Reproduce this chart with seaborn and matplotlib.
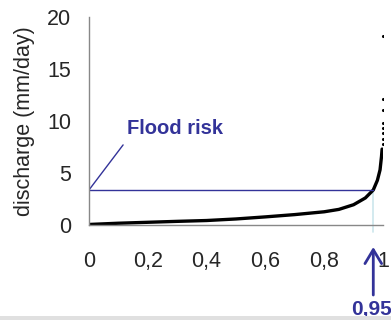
import matplotlib
matplotlib.use("Agg")
import matplotlib.pyplot as plt
import seaborn as sns
from matplotlib.patches import Rectangle

#data
exceedance = [0.0, 0.1, 0.2, 0.3, 0.4, 0.5, 0.6, 0.7, 0.8, 0.85, 0.9, 0.94, 0.967, 0.981, 0.99, 0.995, 0.997]
discharge = [0.05, 0.17, 0.26, 0.35, 0.43, 0.58, 0.78, 1.0, 1.27, 1.5, 1.95, 2.6, 3.37, 4.3, 5.3, 6.6, 7.3]
top_x = [0.999, 0.999, 0.999, 0.999, 0.999, 1.0, 1.0, 1.0]
top_y = [7.8, 8.3, 8.8, 9.3, 9.8, 11.06, 12.1, 18.2]
flood_level = 3.37
flood_x = 0.967
yticks = [0, 5, 10, 15, 20]
xticks = [0, 0.2, 0.4, 0.6, 0.8, 1]
xticklabels = ["0", "0,2", "0,4", "0,6", "0,8", "1"]

sns.set_style("white")
plt.rcParams['font.family'] = ['Liberation Sans', 'DejaVu Sans']
blue = "#333399"
grey = "#888888"

fig = plt.figure(figsize=(3.91, 3.2), dpi=100)
ax = fig.add_axes([0.2276, 0.2969, 0.7519, 0.65])

#curve
sns.lineplot(x=exceedance, y=discharge, ax=ax, color="black", linewidth=2.4,
             solid_capstyle="round", sort=False)
sns.scatterplot(x=top_x, y=top_y, ax=ax, color="black", s=5, linewidth=0)

#flood risk lines
ax.plot([0, flood_x], [flood_level, flood_level], color=blue, lw=1)
ax.plot([flood_x, flood_x], [flood_level, -0.65], color="#cce6ec", lw=1.2,
        clip_on=False, zorder=0)
ax.plot([0, 0.116], [flood_level, 7.7], color=blue, lw=1)
ax.text(0.13, 9.3, "Flood risk", color=blue, fontsize=14.5, fontweight="bold",
        va="center", ha="left")

#arrow + label below axis
ax.annotate("", xy=(flood_x, -1.85), xytext=(flood_x, -7.0),
            arrowprops=dict(arrowstyle="->,head_length=0.5,head_width=0.3",
                            color=blue, lw=2, mutation_scale=20),
            annotation_clip=False)
ax.text(0.96, -7.2, "0,95", color=blue, fontsize=15, fontweight="bold",
        ha="center", va="top", clip_on=False, zorder=5)

ax.set_xlim(0, 1)
ax.set_ylim(0, 20)
ax.set_xticks(xticks)
ax.set_xticklabels(xticklabels)
ax.set_yticks(yticks)
ax.tick_params(axis="both", labelsize=15.5, length=5, width=1, color=grey,
               direction="out")
ax.tick_params(axis="x", pad=14)
ax.tick_params(axis="y", pad=8)
sns.despine(ax=ax)
for s in ["left", "bottom"]:
    ax.spines[s].set_color(grey)
    ax.spines[s].set_linewidth(1)
ax.set_ylabel("discharge (mm/day)", fontsize=15.5)
ax.yaxis.set_label_coords(-0.184, 0.5)

fig.patches.append(Rectangle((0, 0), 1, 4 / 320, transform=fig.transFigure,
                             facecolor="#e0e0e0", edgecolor="none", zorder=0))

plt.savefig("out.png", dpi=100)
